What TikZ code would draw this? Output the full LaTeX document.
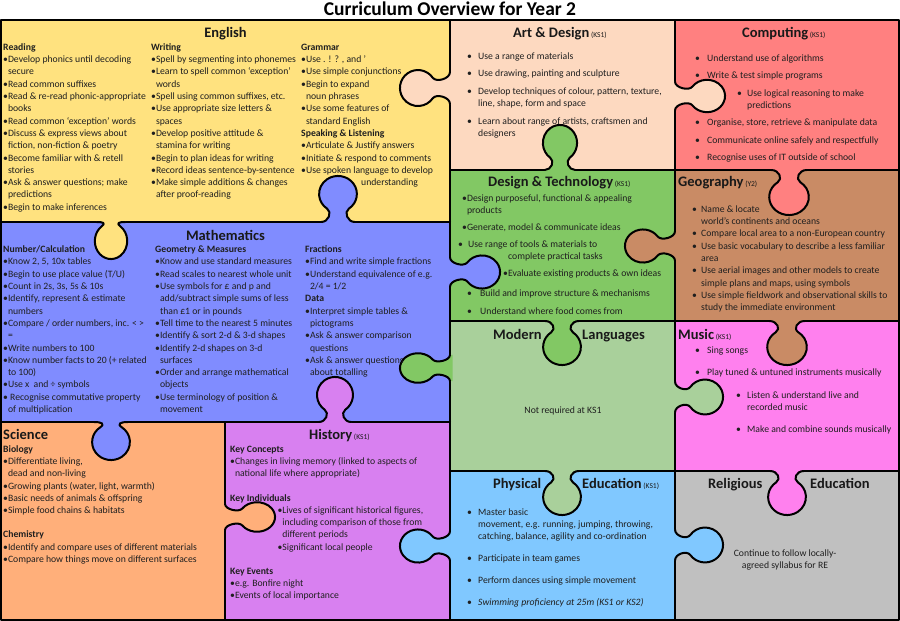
\documentclass[tikz,border=0pt]{standalone}
\usepackage{fontspec}
\setmainfont{Carlito}
\definecolor{cEng}{HTML}{FFE27F}
\definecolor{cMat}{HTML}{808CFF}
\definecolor{cSci}{HTML}{FFAF7A}
\definecolor{cHis}{HTML}{D880F0}
\definecolor{cArt}{HTML}{FDD9C0}
\definecolor{cCom}{HTML}{FF8080}
\definecolor{cDT}{HTML}{82C864}
\definecolor{cGeo}{HTML}{C98B65}
\definecolor{cML}{HTML}{A9D09B}
\definecolor{cMus}{HTML}{FF80EE}
\definecolor{cPE}{HTML}{80C8FF}
\definecolor{cRE}{HTML}{C0C0C0}
\tikzset{
  outl/.style={draw=black, line width=2pt, line cap=round, line join=round},
  body/.style={anchor=north west, inner sep=0pt, align=left, text=black!88,
    font=\fontsize{9.7}{12.3}\selectfont},
  bodyb/.style={body, font=\fontsize{9.7}{12.2}\selectfont},
  head/.style={anchor=base west, inner sep=0pt, text=black!90,
    font=\fontsize{14.5}{17}\selectfont\bfseries},
}
\newcommand\ks{\fontsize{7.5}{9}\mdseries\selectfont}
\newcommand\cn{\phantom{•}}
\newcommand\bl[1]{\makebox[#1][l]{•}}
\newcommand\knob[6]{%
  \pgfmathsetmacro\kc{#5-18}%
  \begin{scope}[shift={(#1,#2)},rotate=#3,xscale=#6]
    \fill[#4] (-16,-2.5) -- (-16,0) .. controls (-9,0) and (-5.4,\kc-18.1) .. (-10.3,\kc-14.7)
      arc[start angle=235,end angle=-55,radius=18]
      .. controls (5.4,\kc-18.1) and (9,0) .. (16,0) -- (16,-2.5) -- cycle;
    \draw[outl] (-16,0) .. controls (-9,0) and (-5.4,\kc-18.1) .. (-10.3,\kc-14.7)
      arc[start angle=235,end angle=-55,radius=18]
      .. controls (5.4,\kc-18.1) and (9,0) .. (16,0);
  \end{scope}}
\begin{document}
\begin{tikzpicture}[x=1pt,y=-1pt]
\useasboundingbox (0,0) rectangle (900,621);
\fill[white] (0,0) rectangle (900,621);
% cells
\fill[cEng] (1,20) rectangle (450,222);
\fill[cMat] (1,222) rectangle (450,422);
\fill[cSci] (1,422) rectangle (225,620);
\fill[cHis] (225,422) rectangle (450,620);
\fill[cArt] (450,20) rectangle (675,170);
\fill[cCom] (675,20) rectangle (899,170);
\fill[cDT] (450,170) rectangle (675,321);
\fill[cGeo] (675,170) rectangle (899,321);
\fill[cML] (450,321) rectangle (675,471);
\fill[cMus] (675,321) rectangle (899,471);
\fill[cPE] (450,471) rectangle (675,620);
\fill[cRE] (675,471) rectangle (899,620);
% grid
\draw[outl] (1,20) rectangle (899,620);
\draw[outl] (450,20) -- (450,620);
\draw[outl] (675,20) -- (675,620);
\draw[outl] (1,222) -- (450,222);
\draw[outl] (1,422) -- (450,422);
\draw[outl] (225,422) -- (225,620);
\draw[outl] (450,170) -- (899,170);
\draw[outl] (450,321) -- (899,321);
\draw[outl] (450,471) -- (899,471);
% knobs: x, y, rotation, colour, depth, width scale
\knob{111}{222}{0}{cEng}{37}{0.9}
\knob{338}{222}{180}{cMat}{46}{1.05}
\knob{335}{422}{180}{cHis}{45}{1.0}
\knob{111}{422}{0}{cMat}{38}{1.05}
\knob{225}{517}{90}{cSci}{50}{0.82}
\knob{450}{546}{-90}{cPE}{50}{0.92}
\knob{450}{88}{-90}{cArt}{50}{1.0}
\knob{675}{96}{90}{cArt}{50}{0.9}
\knob{450}{272}{90}{cMat}{50}{0.92}
\knob{450}{368}{-90}{cDT}{50}{0.82}
\knob{675}{246}{-90}{cGeo}{50}{0.92}
\knob{675}{397}{90}{cML}{48}{0.97}
\knob{675}{545}{90}{cPE}{48}{0.97}
\knob{560}{170}{180}{cDT}{45}{0.95}
\knob{789}{170}{0}{cCom}{45}{1.1}
\knob{562}{321}{0}{cDT}{44}{1.05}
\knob{787}{321}{0}{cGeo}{44}{1.1}
\knob{562}{471}{0}{cML}{44}{1.05}
\knob{787}{471}{0}{cMus}{44}{1.05}
% title
\node[anchor=base, inner sep=0pt, font=\fontsize{19.5}{22}\selectfont\bfseries] (title) at (450,15.5) {Curriculum Overview for Year 2};
% English
\node[head, anchor=base] (engh) at (225.5,37) {English};
\node[body] (read) at (3,41.5) {\strut\textbf{Reading}\\
•Develop phonics until decoding\\
\cn secure\\
•Read common suffixes\\
•Read \& re-read phonic-appropriate\\
\cn books\\
•Read common ‘exception’ words\\
•Discuss \& express views about\\
\cn fiction, non-fiction \& poetry\\
•Become familiar with \& retell\\
\cn stories\\
•Ask \& answer questions; make\\
\cn predictions\\
•Begin to make inferences};
\node[body] (writ) at (151,41.5) {\strut\textbf{Writing}\\
•Spell by segmenting into phonemes\\
•Learn to spell common ‘exception’\\
\cn words\\
•Spell using common suffixes, etc.\\
•Use appropriate size letters \&\\
\cn spaces\\
•Develop positive attitude \&\\
\cn stamina for writing\\
•Begin to plan ideas for writing\\
•Record ideas sentence-by-sentence\\
•Make simple additions \& changes\\
\cn after proof-reading};
\node[body] (gram) at (301,41.5) {\strut\textbf{Grammar}\\
•Use . ! ? , and ’\\
•Use simple conjunctions\\
•Begin to expand\\
\cn noun phrases\\
•Use some features of\\
\cn standard English\\
\textbf{Speaking \& Listening}\\
•Articulate \& Justify answers\\
•Initiate \& respond to comments\\
•Use spoken language to develop\\
\hspace*{60pt}understanding};
% Mathematics
\node[head, anchor=base] (math) at (225.5,240) {Mathematics};
\node[body] (num) at (3,243.8) {\strut\textbf{Number/Calculation}\\
•Know 2, 5, 10x tables\\
•Begin to use place value (T/U)\\
•Count in 2s, 3s, 5s \& 10s\\
•Identify, represent \& estimate\\
\cn numbers\\
•Compare / order numbers, inc. < >\\
\cn =\\
•Write numbers to 100\\
•Know number facts to 20 (+ related\\
\cn to 100)\\
•Use x\ \ and ÷ symbols\\
• Recognise commutative property\\
\cn of multiplication};
\node[body] (geom) at (155,243.8) {\strut\textbf{Geometry \& Measures}\\
•Know and use standard measures\\
•Read scales to nearest whole unit\\
•Use symbols for £ and p and\\
\cn add/subtract simple sums of less\\
\cn than £1 or in pounds\\
•Tell time to the nearest 5 minutes\\
•Identify \& sort 2-d \& 3-d shapes\\
•Identify 2-d shapes on 3-d\\
\cn surfaces\\
•Order and arrange mathematical\\
\cn objects\\
•Use terminology of position \&\\
\cn movement};
\node[body] (frac) at (305,243.8) {\strut\textbf{Fractions}\\
•Find and write simple fractions\\
•Understand equivalence of e.g.\\
\cn 2/4 = 1/2\\
\textbf{Data}\\
•Interpret simple tables \&\\
\cn pictograms\\
•Ask \& answer comparison\\
\cn questions\\
•Ask \& answer questions\\
\cn about totalling};
% Science
\node[head] (scih) at (3,439) {Science};
\node[bodyb] (sci) at (3,443.8) {\strut\textbf{Biology}\\
•Differentiate living,\\
\cn dead and non-living\\
•Growing plants (water, light, warmth)\\
•Basic needs of animals \& offspring\\
•Simple food chains \& habitats\\
\strut\\
\textbf{Chemistry}\\
•Identify and compare uses of different materials\\
•Compare how things move on different surfaces};
% History
\node[head] (hish) at (309,439) {History{\ks\ (KS1)}};
\node[bodyb] (his) at (230,443.8) {\strut\textbf{Key Concepts}\\
•Changes in living memory (linked to aspects of\\
\cn national life where appropriate)\\
\strut\\
\textbf{Key Individuals}\\
\hspace*{47.3pt}•Lives of significant historical figures,\\
\hspace*{47.3pt}\cn including comparison of those from\\
\hspace*{47.3pt}\cn different periods\\
\hspace*{47.3pt}•Significant local people\\
\strut\\
\textbf{Key Events}\\
•e.g. Bonfire night\\
•Events of local importance};
% Art & Design
\node[head] (arth) at (513,37.5) {Art \& Design{\ks\ (KS1)}};
\node[body] (a1) at (467,50.5) {\strut\bl{11pt}Use a range of materials};
\node[body] (a2) at (467,67.5) {\strut\bl{11pt}Use drawing, painting and sculpture};
\node[body] (a3) at (467,85.5) {\strut\bl{11pt}Develop techniques of colour, pattern, texture,\\\hspace*{11pt}line, shape, form and space};
\node[body] (a4) at (467,115.5) {\strut\bl{11pt}Learn about range of artists, craftsmen and\\\hspace*{11pt}designers};
% Computing
\node[head] (comh) at (742,37.5) {Computing{\ks\ (KS1)}};
\node[body] (c1) at (695,52.5) {\strut\bl{12pt}Understand use of algorithms};
\node[body] (c2) at (695,69.5) {\strut\bl{12pt}Write \& test simple programs};
\node[body] (c3) at (737,87.5) {\strut\bl{10pt}Use logical reasoning to make\\\hspace*{10pt}predictions};
\node[body] (c4) at (695,116.5) {\strut\bl{12pt}Organise, store, retrieve \& manipulate data};
\node[body] (c5) at (695,134.5) {\strut\bl{12pt}Communicate online safely and respectfully};
\node[body] (c6) at (695,151.5) {\strut\bl{12pt}Recognise uses of IT outside of school};
% Design & Technology
\node[head] (dth) at (488,186.5) {Design \& Technology{\ks\ (KS1)}};
\node[body] (d1) at (462,192.5) {\strut•Design purposeful, functional \& appealing\\\cn products};
\node[body] (d2) at (462,221.5) {\strut•Generate, model \& communicate ideas};
\node[body] (d3) at (458,238.5) {\strut\bl{10pt}Use range of tools \& materials to\\\hspace*{50pt}complete practical tasks};
\node[body] (d4) at (503,267.5) {\strut•Evaluate existing products \& own ideas};
\node[body] (d5) at (467,287.5) {\strut\bl{13pt}Build and improve structure \& mechanisms};
\node[body] (d6) at (467,305.5) {\strut\bl{13pt}Understand where food comes from};
% Geography
\node[head] (geoh) at (678,186.7) {Geography{\ks\ (Y2)}};
\node[body] (geo) at (692,203.5) {\strut\bl{9pt}Name \& locate\\
\hspace*{9pt}world’s continents and oceans\\
\bl{9pt}Compare local area to a non-European country\\
\bl{9pt}Use basic vocabulary to describe a less familiar\\
\hspace*{9pt}area\\
\bl{9pt}Use aerial images and other models to create\\
\hspace*{9pt}simple plans and maps, using symbols\\
\bl{9pt}Use simple fieldwork and observational skills to\\
\hspace*{9pt}study the immediate environment};
% Modern Languages
\node[head] (mlh1) at (493,339.3) {Modern};
\node[head] (mlh2) at (582,339.3) {Languages};
\node[body, anchor=north, align=center] (ml) at (563,404.5) {\strut Not required at KS1};
% Music
\node[head] (mush) at (678,339.3) {Music{\ks\ (KS1)}};
\node[body] (m1) at (695,344.5) {\strut\bl{12pt}Sing songs};
\node[body] (m2) at (695,366.5) {\strut\bl{12pt}Play tuned \& untuned instruments musically};
\node[body] (m3) at (736,389.5) {\strut\bl{11pt}Listen \& understand live and\\\hspace*{11pt}recorded music};
\node[body] (m4) at (736,423.5) {\strut\bl{11pt}Make and combine sounds musically};
% Physical Education
\node[head] (peh1) at (493,488.3) {Physical};
\node[head] (peh2) at (582,488.3) {Education{\ks\ (KS1)}};
\node[body] (p1) at (467,506.5) {\strut\bl{11pt}Master basic\\\hspace*{11pt}movement, e.g. running, jumping, throwing,\\\hspace*{11pt}catching, balance, agility and co-ordination};
\node[body] (p2) at (467,552.5) {\strut\bl{11pt}Participate in team games};
\node[body] (p3) at (467,574.5) {\strut\bl{11pt}Perform dances using simple movement};
\node[body] (p4) at (467,596.5) {\strut\bl{11pt}\textit{Swimming proficiency at 25m (KS1 or KS2)}};
% Religious Education
\node[head] (reh1) at (708,488.3) {Religious};
\node[head] (reh2) at (810,488.3) {Education};
\node[body, anchor=north, align=center] (re) at (785,547.5) {\strut Continue to follow locally-\\agreed syllabus for RE};
\end{tikzpicture}
\end{document}
